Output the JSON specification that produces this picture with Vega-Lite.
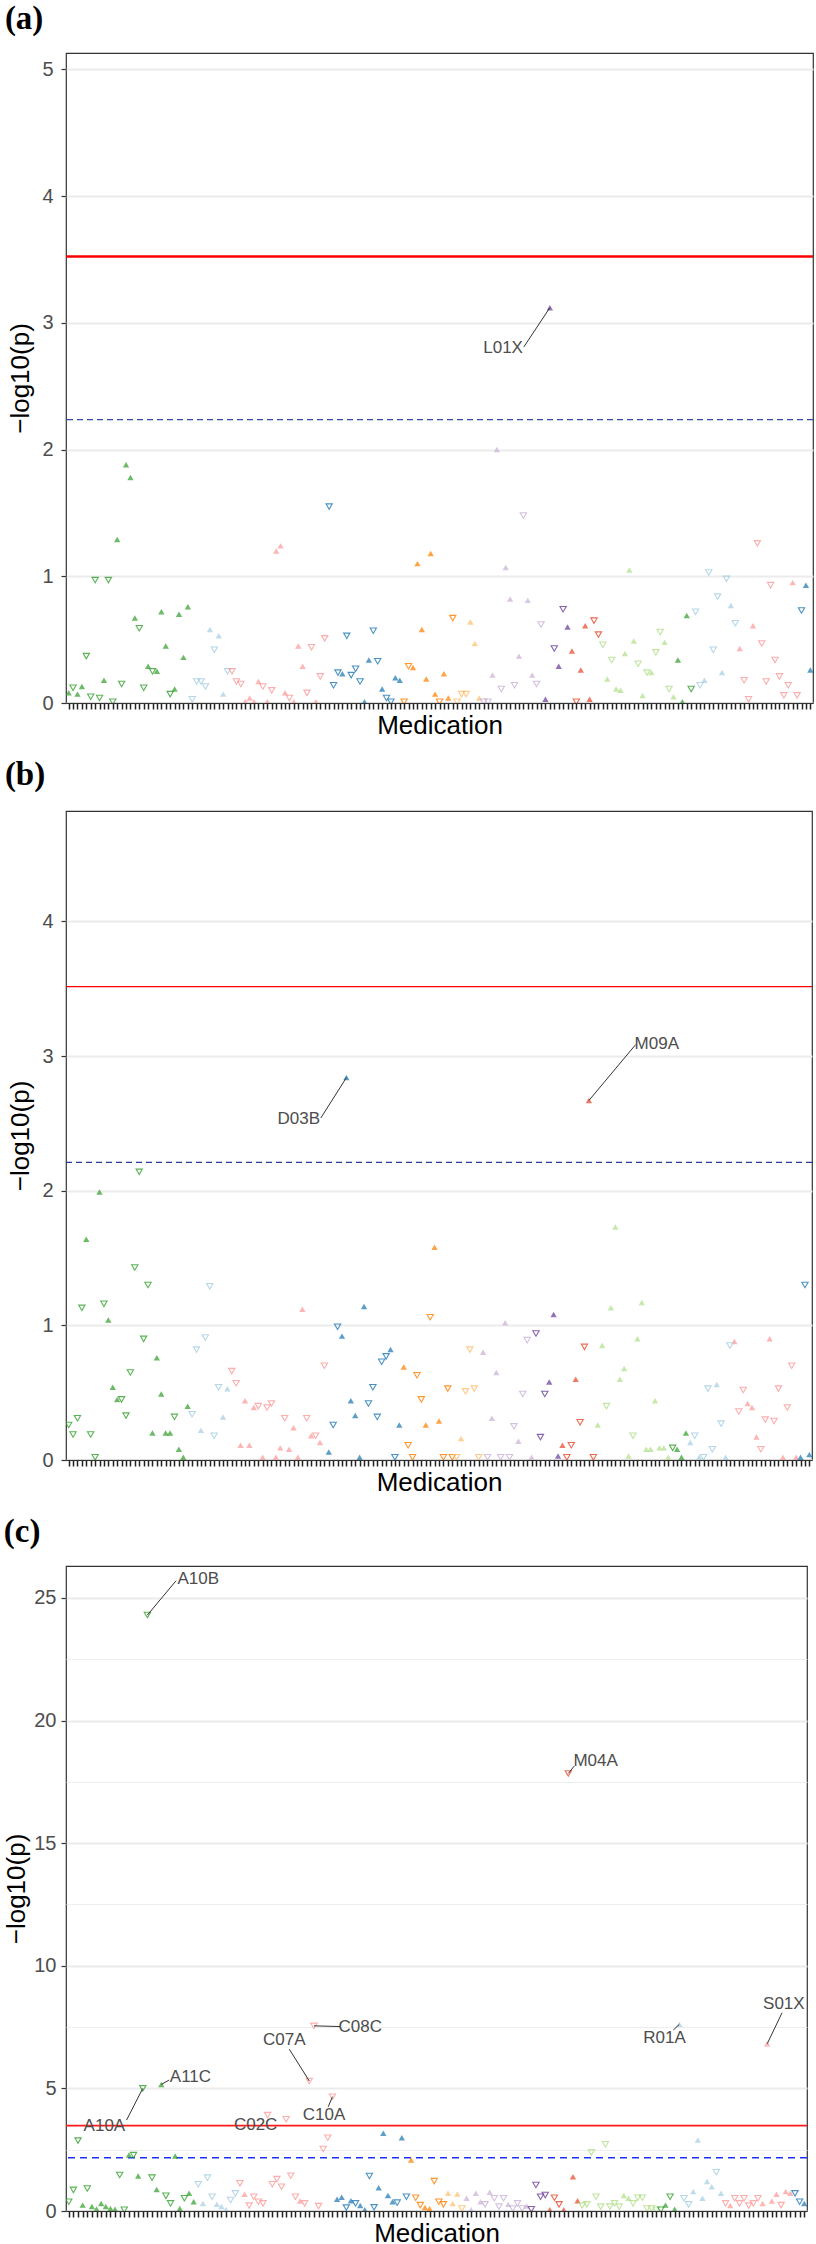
{
"$schema":"https://vega.github.io/schema/vega-lite/v6.json",
"padding":{"left":3,"top":2,"right":2,"bottom":0},
"background":"white",
"columns":1,
"align":"none",
"spacing":18,
"resolve":{"scale":{"x":"independent","y":"independent"}},
"config":{"view":{"stroke":"#333333","strokeWidth":1.2},"font":"Liberation Sans"},
"datasets":{
"thr":[{"p":"a","t":"bonf","v":3.524},{"p":"a","t":"fdr","v":2.236},{"p":"b","t":"bonf","v":3.515},{"p":"b","t":"fdr","v":2.21},{"p":"c","t":"bonf","v":3.48},{"p":"c","t":"fdr","v":2.17}],
"lab":[
{"p":"a","lab":"L01X","i":110,"v":3.12,"tx":99.4,"ty":2.80,"sx":104.1,"sy":2.81},
{"p":"b","lab":"D03B","i":64,"v":2.84,"tx":53.2,"ty":2.53,"sx":58.2,"sy":2.54},
{"p":"b","lab":"M09A","i":119,"v":2.67,"tx":134.4,"ty":3.09,"sx":129.6,"sy":3.085},
{"p":"c","lab":"A10B","i":18,"v":24.3,"tx":29.0,"ty":25.76,"sx":24.2,"sy":25.7},
{"p":"c","lab":"M04A","i":109,"v":17.84,"tx":114.9,"ty":18.35,"sx":110.3,"sy":18.15},
{"p":"c","lab":"C08C","i":54,"v":7.55,"tx":64.0,"ty":7.52,"sx":59.7,"sy":7.52},
{"p":"c","lab":"C07A","i":53,"v":5.30,"tx":47.6,"ty":6.96,"sx":48.7,"sy":6.59},
{"p":"c","lab":"C10A","i":58,"v":4.66,"tx":56.2,"ty":3.90,"sx":57.1,"sy":4.25},
{"p":"c","lab":"C02C","i":44,"v":3.91,"tx":41.4,"ty":3.50,"sx":44,"sy":3.91},
{"p":"c","lab":"A10A","i":17,"v":5.0,"tx":8.7,"ty":3.47,"sx":13.5,"sy":3.71},
{"p":"c","lab":"A11C","i":21,"v":5.16,"tx":27.3,"ty":5.47,"sx":22.7,"sy":5.34},
{"p":"c","lab":"R01A","i":133,"v":7.61,"tx":129.8,"ty":7.04,"sx":131.7,"sy":7.38},
{"p":"c","lab":"S01X","i":152,"v":6.82,"tx":155.6,"ty":8.43,"sx":155.2,"sy":8.08}
],
"pts":[
{"p":"a","i":1,"g":"A","d":"u","v":0.08},{"p":"a","i":2,"g":"A","d":"d","v":0.12},{"p":"a","i":3,"g":"A","d":"u","v":0.07},{"p":"a","i":4,"g":"A","d":"u","v":0.13},{"p":"a","i":5,"g":"A","d":"d","v":0.37},{"p":"a","i":6,"g":"A","d":"d","v":0.05},{"p":"a","i":7,"g":"A","d":"d","v":0.97},{"p":"a","i":8,"g":"A","d":"d","v":0.04},{"p":"a","i":9,"g":"A","d":"u","v":0.18},{"p":"a","i":10,"g":"A","d":"d","v":0.97},
{"p":"a","i":11,"g":"A","d":"d","v":0.01},{"p":"a","i":12,"g":"A","d":"u","v":1.29},{"p":"a","i":13,"g":"A","d":"d","v":0.15},{"p":"a","i":14,"g":"A","d":"u","v":1.88},{"p":"a","i":15,"g":"A","d":"u","v":1.78},{"p":"a","i":16,"g":"A","d":"u","v":0.67},{"p":"a","i":17,"g":"A","d":"d","v":0.59},{"p":"a","i":18,"g":"A","d":"d","v":0.12},{"p":"a","i":19,"g":"A","d":"u","v":0.29},{"p":"a","i":20,"g":"A","d":"d","v":0.25},
{"p":"a","i":21,"g":"A","d":"u","v":0.25},{"p":"a","i":22,"g":"A","d":"u","v":0.72},{"p":"a","i":23,"g":"A","d":"u","v":0.45},{"p":"a","i":24,"g":"A","d":"d","v":0.07},{"p":"a","i":25,"g":"A","d":"u","v":0.11},{"p":"a","i":26,"g":"A","d":"u","v":0.70},{"p":"a","i":27,"g":"A","d":"u","v":0.36},{"p":"a","i":28,"g":"A","d":"u","v":0.76},
{"p":"a","i":29,"g":"B","d":"d","v":0.03},{"p":"a","i":30,"g":"B","d":"d","v":0.17},{"p":"a","i":31,"g":"B","d":"d","v":0.17},{"p":"a","i":32,"g":"B","d":"d","v":0.13},{"p":"a","i":33,"g":"B","d":"u","v":0.58},{"p":"a","i":34,"g":"B","d":"d","v":0.42},{"p":"a","i":35,"g":"B","d":"u","v":0.53},{"p":"a","i":36,"g":"B","d":"u","v":0.07},{"p":"a","i":37,"g":"B","d":"d","v":0.25},
{"p":"a","i":38,"g":"C","d":"d","v":0.25},{"p":"a","i":39,"g":"C","d":"d","v":0.17},{"p":"a","i":40,"g":"C","d":"d","v":0.15},{"p":"a","i":41,"g":"C","d":"u","v":0.01},{"p":"a","i":42,"g":"C","d":"u","v":0.04},{"p":"a","i":43,"g":"C","d":"u","v":0.01},{"p":"a","i":44,"g":"C","d":"u","v":0.17},{"p":"a","i":45,"g":"C","d":"d","v":0.13},{"p":"a","i":46,"g":"C","d":"u","v":0.01},{"p":"a","i":47,"g":"C","d":"d","v":0.10},
{"p":"a","i":48,"g":"C","d":"u","v":1.20},{"p":"a","i":49,"g":"C","d":"u","v":1.24},{"p":"a","i":50,"g":"C","d":"u","v":0.08},{"p":"a","i":51,"g":"C","d":"d","v":0.04},{"p":"a","i":52,"g":"C","d":"u","v":0.01},{"p":"a","i":53,"g":"C","d":"u","v":0.45},{"p":"a","i":54,"g":"C","d":"u","v":0.29},{"p":"a","i":55,"g":"C","d":"d","v":0.08},{"p":"a","i":56,"g":"C","d":"d","v":0.44},{"p":"a","i":57,"g":"C","d":"u","v":0.01},
{"p":"a","i":58,"g":"C","d":"d","v":0.21},{"p":"a","i":59,"g":"C","d":"d","v":0.51},
{"p":"a","i":60,"g":"D","d":"d","v":1.55},{"p":"a","i":61,"g":"D","d":"d","v":0.14},{"p":"a","i":62,"g":"D","d":"d","v":0.24},{"p":"a","i":63,"g":"D","d":"u","v":0.23},{"p":"a","i":64,"g":"D","d":"d","v":0.53},{"p":"a","i":65,"g":"D","d":"d","v":0.22},{"p":"a","i":66,"g":"D","d":"d","v":0.27},{"p":"a","i":67,"g":"D","d":"d","v":0.17},{"p":"a","i":68,"g":"D","d":"u","v":0.01},{"p":"a","i":69,"g":"D","d":"u","v":0.34},
{"p":"a","i":70,"g":"D","d":"d","v":0.57},{"p":"a","i":71,"g":"D","d":"d","v":0.33},{"p":"a","i":72,"g":"D","d":"u","v":0.11},{"p":"a","i":73,"g":"D","d":"d","v":0.04},{"p":"a","i":74,"g":"D","d":"d","v":0.01},{"p":"a","i":75,"g":"D","d":"u","v":0.20},{"p":"a","i":76,"g":"D","d":"u","v":0.18},
{"p":"a","i":77,"g":"G","d":"d","v":0.01},{"p":"a","i":78,"g":"G","d":"d","v":0.29},{"p":"a","i":79,"g":"G","d":"u","v":0.28},{"p":"a","i":80,"g":"G","d":"u","v":1.10},{"p":"a","i":81,"g":"G","d":"u","v":0.58},{"p":"a","i":82,"g":"G","d":"u","v":0.19},{"p":"a","i":83,"g":"G","d":"u","v":1.18},{"p":"a","i":84,"g":"G","d":"u","v":0.07},{"p":"a","i":85,"g":"G","d":"d","v":0.01},{"p":"a","i":86,"g":"G","d":"u","v":0.23},{"p":"a","i":87,"g":"G","d":"u","v":0.04},{"p":"a","i":88,"g":"G","d":"d","v":0.67},
{"p":"a","i":89,"g":"H","d":"d","v":0.01},{"p":"a","i":90,"g":"H","d":"d","v":0.07},{"p":"a","i":91,"g":"H","d":"d","v":0.07},{"p":"a","i":92,"g":"H","d":"u","v":0.64},{"p":"a","i":93,"g":"H","d":"u","v":0.47},{"p":"a","i":94,"g":"H","d":"u","v":0.04},
{"p":"a","i":95,"g":"J","d":"d","v":0.01},{"p":"a","i":96,"g":"J","d":"d","v":0.01},{"p":"a","i":97,"g":"J","d":"u","v":0.22},{"p":"a","i":98,"g":"J","d":"u","v":2.00},{"p":"a","i":99,"g":"J","d":"d","v":0.11},{"p":"a","i":100,"g":"J","d":"u","v":1.07},{"p":"a","i":101,"g":"J","d":"u","v":0.82},{"p":"a","i":102,"g":"J","d":"d","v":0.14},{"p":"a","i":103,"g":"J","d":"u","v":0.37},{"p":"a","i":104,"g":"J","d":"d","v":1.48},{"p":"a","i":105,"g":"J","d":"u","v":0.81},{"p":"a","i":106,"g":"J","d":"u","v":0.22},{"p":"a","i":107,"g":"J","d":"d","v":0.15},{"p":"a","i":108,"g":"J","d":"d","v":0.62},
{"p":"a","i":109,"g":"L","d":"u","v":0.03},{"p":"a","i":110,"g":"L","d":"u","v":3.12},{"p":"a","i":111,"g":"L","d":"d","v":0.43},{"p":"a","i":112,"g":"L","d":"u","v":0.29},{"p":"a","i":113,"g":"L","d":"d","v":0.74},{"p":"a","i":114,"g":"L","d":"u","v":0.60},
{"p":"a","i":115,"g":"M","d":"u","v":0.41},{"p":"a","i":116,"g":"M","d":"d","v":0.01},{"p":"a","i":117,"g":"M","d":"u","v":0.26},{"p":"a","i":118,"g":"M","d":"u","v":0.61},{"p":"a","i":119,"g":"M","d":"u","v":0.03},{"p":"a","i":120,"g":"M","d":"d","v":0.65},{"p":"a","i":121,"g":"M","d":"d","v":0.54},
{"p":"a","i":122,"g":"N","d":"d","v":0.46},{"p":"a","i":123,"g":"N","d":"u","v":0.19},{"p":"a","i":124,"g":"N","d":"d","v":0.34},{"p":"a","i":125,"g":"N","d":"u","v":0.11},{"p":"a","i":126,"g":"N","d":"u","v":0.10},{"p":"a","i":127,"g":"N","d":"u","v":0.39},{"p":"a","i":128,"g":"N","d":"u","v":1.05},{"p":"a","i":129,"g":"N","d":"u","v":0.49},{"p":"a","i":130,"g":"N","d":"d","v":0.31},{"p":"a","i":131,"g":"N","d":"u","v":0.06},{"p":"a","i":132,"g":"N","d":"d","v":0.24},{"p":"a","i":133,"g":"N","d":"u","v":0.24},{"p":"a","i":134,"g":"N","d":"d","v":0.40},{"p":"a","i":135,"g":"N","d":"d","v":0.56},{"p":"a","i":136,"g":"N","d":"u","v":0.48},{"p":"a","i":137,"g":"N","d":"d","v":0.11},{"p":"a","i":138,"g":"N","d":"u","v":0.05},
{"p":"a","i":139,"g":"P","d":"u","v":0.34},{"p":"a","i":140,"g":"P","d":"u","v":0.01},{"p":"a","i":141,"g":"P","d":"u","v":0.69},{"p":"a","i":142,"g":"P","d":"d","v":0.11},
{"p":"a","i":143,"g":"R","d":"d","v":0.72},{"p":"a","i":144,"g":"R","d":"d","v":0.14},{"p":"a","i":145,"g":"R","d":"u","v":0.18},{"p":"a","i":146,"g":"R","d":"d","v":1.03},{"p":"a","i":147,"g":"R","d":"d","v":0.42},{"p":"a","i":148,"g":"R","d":"d","v":0.84},{"p":"a","i":149,"g":"R","d":"u","v":0.24},{"p":"a","i":150,"g":"R","d":"d","v":0.98},{"p":"a","i":151,"g":"R","d":"u","v":0.77},{"p":"a","i":152,"g":"R","d":"d","v":0.63},
{"p":"a","i":153,"g":"S","d":"u","v":0.43},{"p":"a","i":154,"g":"S","d":"d","v":0.18},{"p":"a","i":155,"g":"S","d":"d","v":0.03},{"p":"a","i":156,"g":"S","d":"u","v":0.61},{"p":"a","i":157,"g":"S","d":"d","v":1.26},{"p":"a","i":158,"g":"S","d":"d","v":0.47},{"p":"a","i":159,"g":"S","d":"d","v":0.17},{"p":"a","i":160,"g":"S","d":"d","v":0.93},{"p":"a","i":161,"g":"S","d":"d","v":0.34},{"p":"a","i":162,"g":"S","d":"d","v":0.21},{"p":"a","i":163,"g":"S","d":"d","v":0.06},{"p":"a","i":164,"g":"S","d":"d","v":0.14},{"p":"a","i":165,"g":"S","d":"u","v":0.95},{"p":"a","i":166,"g":"S","d":"d","v":0.06},
{"p":"a","i":167,"g":"V","d":"d","v":0.73},{"p":"a","i":168,"g":"V","d":"u","v":0.93},{"p":"a","i":169,"g":"V","d":"u","v":0.26},

{"p":"b","i":1,"g":"A","d":"d","v":0.26},{"p":"b","i":2,"g":"A","d":"d","v":0.19},{"p":"b","i":3,"g":"A","d":"d","v":0.31},{"p":"b","i":4,"g":"A","d":"d","v":1.13},{"p":"b","i":5,"g":"A","d":"u","v":1.64},{"p":"b","i":6,"g":"A","d":"d","v":0.19},{"p":"b","i":7,"g":"A","d":"d","v":0.02},{"p":"b","i":8,"g":"A","d":"u","v":1.99},{"p":"b","i":9,"g":"A","d":"d","v":1.16},{"p":"b","i":10,"g":"A","d":"u","v":1.04},
{"p":"b","i":11,"g":"A","d":"u","v":0.54},{"p":"b","i":12,"g":"A","d":"u","v":0.45},{"p":"b","i":13,"g":"A","d":"d","v":0.45},{"p":"b","i":14,"g":"A","d":"d","v":0.33},{"p":"b","i":15,"g":"A","d":"d","v":0.65},{"p":"b","i":16,"g":"A","d":"d","v":1.43},{"p":"b","i":17,"g":"A","d":"d","v":2.14},{"p":"b","i":18,"g":"A","d":"d","v":0.90},{"p":"b","i":19,"g":"A","d":"d","v":1.30},{"p":"b","i":20,"g":"A","d":"u","v":0.20},
{"p":"b","i":21,"g":"A","d":"u","v":0.76},{"p":"b","i":22,"g":"A","d":"u","v":0.49},{"p":"b","i":23,"g":"A","d":"u","v":0.20},{"p":"b","i":24,"g":"A","d":"u","v":0.20},{"p":"b","i":25,"g":"A","d":"d","v":0.32},{"p":"b","i":26,"g":"A","d":"u","v":0.08},{"p":"b","i":27,"g":"A","d":"u","v":0.02},{"p":"b","i":28,"g":"A","d":"u","v":0.40},
{"p":"b","i":29,"g":"B","d":"d","v":0.34},{"p":"b","i":30,"g":"B","d":"d","v":0.82},{"p":"b","i":31,"g":"B","d":"u","v":0.22},{"p":"b","i":32,"g":"B","d":"d","v":0.91},{"p":"b","i":33,"g":"B","d":"d","v":1.29},{"p":"b","i":34,"g":"B","d":"d","v":0.18},{"p":"b","i":35,"g":"B","d":"d","v":0.54},{"p":"b","i":36,"g":"B","d":"u","v":0.32},{"p":"b","i":37,"g":"B","d":"u","v":0.53},
{"p":"b","i":38,"g":"C","d":"d","v":0.66},{"p":"b","i":39,"g":"C","d":"d","v":0.57},{"p":"b","i":40,"g":"C","d":"u","v":0.11},{"p":"b","i":41,"g":"C","d":"u","v":0.44},{"p":"b","i":42,"g":"C","d":"u","v":0.11},{"p":"b","i":43,"g":"C","d":"u","v":0.39},{"p":"b","i":44,"g":"C","d":"d","v":0.40},{"p":"b","i":45,"g":"C","d":"u","v":0.02},{"p":"b","i":46,"g":"C","d":"d","v":0.39},{"p":"b","i":47,"g":"C","d":"d","v":0.42},
{"p":"b","i":48,"g":"C","d":"u","v":0.02},{"p":"b","i":49,"g":"C","d":"u","v":0.09},{"p":"b","i":50,"g":"C","d":"d","v":0.31},{"p":"b","i":51,"g":"C","d":"u","v":0.08},{"p":"b","i":52,"g":"C","d":"u","v":0.24},{"p":"b","i":53,"g":"C","d":"u","v":0.02},{"p":"b","i":54,"g":"C","d":"u","v":1.12},{"p":"b","i":55,"g":"C","d":"d","v":0.31},{"p":"b","i":56,"g":"C","d":"u","v":0.18},{"p":"b","i":57,"g":"C","d":"d","v":0.18},{"p":"b","i":58,"g":"C","d":"u","v":0.13},{"p":"b","i":59,"g":"C","d":"d","v":0.70},
{"p":"b","i":60,"g":"D","d":"u","v":0.06},{"p":"b","i":61,"g":"D","d":"d","v":0.26},{"p":"b","i":62,"g":"D","d":"d","v":0.99},{"p":"b","i":63,"g":"D","d":"u","v":0.92},{"p":"b","i":64,"g":"D","d":"u","v":2.84},{"p":"b","i":65,"g":"D","d":"u","v":0.44},{"p":"b","i":66,"g":"D","d":"u","v":0.33},{"p":"b","i":67,"g":"D","d":"u","v":0.02},{"p":"b","i":68,"g":"D","d":"u","v":1.14},{"p":"b","i":69,"g":"D","d":"d","v":0.42},
{"p":"b","i":70,"g":"D","d":"d","v":0.54},{"p":"b","i":71,"g":"D","d":"d","v":0.32},{"p":"b","i":72,"g":"D","d":"d","v":0.73},{"p":"b","i":73,"g":"D","d":"d","v":0.77},{"p":"b","i":74,"g":"D","d":"u","v":0.82},{"p":"b","i":75,"g":"D","d":"d","v":0.02},{"p":"b","i":76,"g":"D","d":"u","v":0.26},
{"p":"b","i":77,"g":"G","d":"u","v":0.69},{"p":"b","i":78,"g":"G","d":"d","v":0.11},{"p":"b","i":79,"g":"G","d":"d","v":0.02},{"p":"b","i":80,"g":"G","d":"d","v":0.63},{"p":"b","i":81,"g":"G","d":"d","v":0.45},{"p":"b","i":82,"g":"G","d":"u","v":0.26},{"p":"b","i":83,"g":"G","d":"d","v":1.06},{"p":"b","i":84,"g":"G","d":"u","v":1.58},{"p":"b","i":85,"g":"G","d":"u","v":0.29},{"p":"b","i":86,"g":"G","d":"d","v":0.02},{"p":"b","i":87,"g":"G","d":"d","v":0.53},{"p":"b","i":88,"g":"G","d":"d","v":0.02},
{"p":"b","i":89,"g":"H","d":"d","v":0.02},{"p":"b","i":90,"g":"H","d":"u","v":0.16},{"p":"b","i":91,"g":"H","d":"d","v":0.51},{"p":"b","i":92,"g":"H","d":"d","v":0.82},{"p":"b","i":93,"g":"H","d":"d","v":0.53},{"p":"b","i":94,"g":"H","d":"d","v":0.02},
{"p":"b","i":95,"g":"J","d":"u","v":0.80},{"p":"b","i":96,"g":"J","d":"d","v":0.02},{"p":"b","i":97,"g":"J","d":"u","v":0.31},{"p":"b","i":98,"g":"J","d":"u","v":0.65},{"p":"b","i":99,"g":"J","d":"d","v":0.02},{"p":"b","i":100,"g":"J","d":"u","v":1.02},{"p":"b","i":101,"g":"J","d":"d","v":0.02},{"p":"b","i":102,"g":"J","d":"d","v":0.25},{"p":"b","i":103,"g":"J","d":"u","v":0.14},{"p":"b","i":104,"g":"J","d":"d","v":0.49},{"p":"b","i":105,"g":"J","d":"d","v":0.89},{"p":"b","i":106,"g":"J","d":"u","v":0.02},
{"p":"b","i":107,"g":"L","d":"d","v":0.94},{"p":"b","i":108,"g":"L","d":"d","v":0.17},{"p":"b","i":109,"g":"L","d":"d","v":0.49},{"p":"b","i":110,"g":"L","d":"u","v":0.58},{"p":"b","i":111,"g":"L","d":"u","v":1.08},{"p":"b","i":112,"g":"L","d":"u","v":0.03},
{"p":"b","i":113,"g":"M","d":"u","v":0.11},{"p":"b","i":114,"g":"M","d":"d","v":0.02},{"p":"b","i":115,"g":"M","d":"d","v":0.11},{"p":"b","i":116,"g":"M","d":"u","v":0.60},{"p":"b","i":117,"g":"M","d":"d","v":0.28},{"p":"b","i":118,"g":"M","d":"d","v":0.84},{"p":"b","i":119,"g":"M","d":"u","v":2.67},{"p":"b","i":120,"g":"M","d":"d","v":0.02},
{"p":"b","i":121,"g":"N","d":"u","v":0.26},{"p":"b","i":122,"g":"N","d":"u","v":0.85},{"p":"b","i":123,"g":"N","d":"d","v":0.40},{"p":"b","i":124,"g":"N","d":"u","v":1.13},{"p":"b","i":125,"g":"N","d":"u","v":1.73},{"p":"b","i":126,"g":"N","d":"u","v":0.60},{"p":"b","i":127,"g":"N","d":"u","v":0.68},{"p":"b","i":128,"g":"N","d":"u","v":0.03},{"p":"b","i":129,"g":"N","d":"d","v":0.18},{"p":"b","i":130,"g":"N","d":"u","v":0.90},
{"p":"b","i":131,"g":"N","d":"u","v":1.17},{"p":"b","i":132,"g":"N","d":"u","v":0.08},{"p":"b","i":133,"g":"N","d":"u","v":0.08},{"p":"b","i":134,"g":"N","d":"u","v":0.44},{"p":"b","i":135,"g":"N","d":"u","v":0.09},{"p":"b","i":136,"g":"N","d":"u","v":0.09},{"p":"b","i":137,"g":"N","d":"u","v":0.02},
{"p":"b","i":138,"g":"P","d":"d","v":0.09},{"p":"b","i":139,"g":"P","d":"u","v":0.08},{"p":"b","i":140,"g":"P","d":"u","v":0.02},{"p":"b","i":141,"g":"P","d":"u","v":0.20},
{"p":"b","i":142,"g":"R","d":"u","v":0.13},{"p":"b","i":143,"g":"R","d":"d","v":0.18},{"p":"b","i":144,"g":"R","d":"u","v":0.02},{"p":"b","i":145,"g":"R","d":"d","v":0.02},{"p":"b","i":146,"g":"R","d":"d","v":0.53},{"p":"b","i":147,"g":"R","d":"d","v":0.08},{"p":"b","i":148,"g":"R","d":"u","v":0.56},{"p":"b","i":149,"g":"R","d":"d","v":0.27},{"p":"b","i":150,"g":"R","d":"u","v":0.02},{"p":"b","i":151,"g":"R","d":"d","v":0.85},
{"p":"b","i":152,"g":"S","d":"u","v":0.88},{"p":"b","i":153,"g":"S","d":"d","v":0.36},{"p":"b","i":154,"g":"S","d":"d","v":0.52},{"p":"b","i":155,"g":"S","d":"u","v":0.42},{"p":"b","i":156,"g":"S","d":"u","v":0.39},{"p":"b","i":157,"g":"S","d":"u","v":0.17},{"p":"b","i":158,"g":"S","d":"d","v":0.08},{"p":"b","i":159,"g":"S","d":"d","v":0.30},{"p":"b","i":160,"g":"S","d":"u","v":0.90},
{"p":"b","i":161,"g":"S","d":"d","v":0.29},{"p":"b","i":162,"g":"S","d":"d","v":0.53},{"p":"b","i":163,"g":"S","d":"u","v":0.02},{"p":"b","i":164,"g":"S","d":"d","v":0.39},{"p":"b","i":165,"g":"S","d":"d","v":0.70},{"p":"b","i":166,"g":"S","d":"u","v":0.02},
{"p":"b","i":167,"g":"V","d":"u","v":0.02},{"p":"b","i":168,"g":"V","d":"d","v":1.30},{"p":"b","i":169,"g":"V","d":"u","v":0.04},

{"p":"c","i":1,"g":"A","d":"d","v":0.38},{"p":"c","i":2,"g":"A","d":"d","v":0.86},{"p":"c","i":3,"g":"A","d":"d","v":2.87},{"p":"c","i":4,"g":"A","d":"u","v":0.24},{"p":"c","i":5,"g":"A","d":"d","v":0.92},{"p":"c","i":6,"g":"A","d":"u","v":0.18},{"p":"c","i":7,"g":"A","d":"u","v":0.08},{"p":"c","i":8,"g":"A","d":"u","v":0.31},{"p":"c","i":9,"g":"A","d":"u","v":0.18},{"p":"c","i":10,"g":"A","d":"u","v":0.10},
{"p":"c","i":11,"g":"A","d":"u","v":0.07},{"p":"c","i":12,"g":"A","d":"d","v":1.47},{"p":"c","i":13,"g":"A","d":"d","v":0.05},{"p":"c","i":14,"g":"A","d":"u","v":2.28},{"p":"c","i":15,"g":"A","d":"d","v":2.28},{"p":"c","i":16,"g":"A","d":"u","v":1.43},{"p":"c","i":17,"g":"A","d":"d","v":5.00},{"p":"c","i":18,"g":"A","d":"d","v":24.3},{"p":"c","i":19,"g":"A","d":"d","v":1.36},{"p":"c","i":20,"g":"A","d":"u","v":0.88},
{"p":"c","i":21,"g":"A","d":"u","v":5.16},{"p":"c","i":22,"g":"A","d":"d","v":0.62},{"p":"c","i":23,"g":"A","d":"d","v":0.31},{"p":"c","i":24,"g":"A","d":"u","v":2.24},{"p":"c","i":25,"g":"A","d":"u","v":0.10},{"p":"c","i":26,"g":"A","d":"d","v":0.52},{"p":"c","i":27,"g":"A","d":"u","v":0.72},{"p":"c","i":28,"g":"A","d":"u","v":0.38},
{"p":"c","i":29,"g":"B","d":"d","v":1.09},{"p":"c","i":30,"g":"B","d":"u","v":0.31},{"p":"c","i":31,"g":"B","d":"d","v":1.36},{"p":"c","i":32,"g":"B","d":"d","v":0.58},{"p":"c","i":33,"g":"B","d":"u","v":0.27},{"p":"c","i":34,"g":"B","d":"u","v":0.18},{"p":"c","i":35,"g":"B","d":"u","v":0.05},{"p":"c","i":36,"g":"B","d":"d","v":0.45},{"p":"c","i":37,"g":"B","d":"d","v":0.72},
{"p":"c","i":38,"g":"C","d":"d","v":1.13},{"p":"c","i":39,"g":"C","d":"u","v":0.68},{"p":"c","i":40,"g":"C","d":"d","v":0.22},{"p":"c","i":41,"g":"C","d":"d","v":0.58},{"p":"c","i":42,"g":"C","d":"d","v":0.38},{"p":"c","i":43,"g":"C","d":"d","v":0.31},{"p":"c","i":44,"g":"C","d":"d","v":3.91},{"p":"c","i":45,"g":"C","d":"d","v":1.09},{"p":"c","i":46,"g":"C","d":"d","v":1.30},{"p":"c","i":47,"g":"C","d":"d","v":0.99},
{"p":"c","i":48,"g":"C","d":"d","v":3.74},{"p":"c","i":49,"g":"C","d":"d","v":1.44},{"p":"c","i":50,"g":"C","d":"d","v":0.58},{"p":"c","i":51,"g":"C","d":"u","v":0.41},{"p":"c","i":52,"g":"C","d":"d","v":0.31},{"p":"c","i":53,"g":"C","d":"d","v":5.30},{"p":"c","i":54,"g":"C","d":"d","v":7.55},{"p":"c","i":55,"g":"C","d":"d","v":0.20},{"p":"c","i":56,"g":"C","d":"d","v":2.53},{"p":"c","i":57,"g":"C","d":"d","v":2.99},{"p":"c","i":58,"g":"C","d":"d","v":4.66},
{"p":"c","i":59,"g":"D","d":"u","v":0.48},{"p":"c","i":60,"g":"D","d":"u","v":0.56},{"p":"c","i":61,"g":"D","d":"d","v":0.14},{"p":"c","i":62,"g":"D","d":"u","v":0.42},{"p":"c","i":63,"g":"D","d":"d","v":0.31},{"p":"c","i":64,"g":"D","d":"u","v":0.22},{"p":"c","i":65,"g":"D","d":"u","v":0.05},{"p":"c","i":66,"g":"D","d":"d","v":1.43},{"p":"c","i":67,"g":"D","d":"d","v":0.15},{"p":"c","i":68,"g":"D","d":"u","v":0.95},
{"p":"c","i":69,"g":"D","d":"u","v":3.17},{"p":"c","i":70,"g":"D","d":"u","v":0.63},{"p":"c","i":71,"g":"D","d":"u","v":0.38},{"p":"c","i":72,"g":"D","d":"d","v":0.34},{"p":"c","i":73,"g":"D","d":"u","v":2.99},{"p":"c","i":74,"g":"D","d":"d","v":0.58},
{"p":"c","i":75,"g":"G","d":"u","v":2.08},{"p":"c","i":76,"g":"G","d":"d","v":0.54},{"p":"c","i":77,"g":"G","d":"d","v":0.24},{"p":"c","i":78,"g":"G","d":"u","v":0.14},{"p":"c","i":79,"g":"G","d":"u","v":0.10},{"p":"c","i":80,"g":"G","d":"d","v":1.22},{"p":"c","i":81,"g":"G","d":"d","v":0.38},{"p":"c","i":82,"g":"G","d":"d","v":0.27},
{"p":"c","i":83,"g":"H","d":"u","v":0.72},{"p":"c","i":84,"g":"H","d":"u","v":0.31},{"p":"c","i":85,"g":"H","d":"u","v":0.69},{"p":"c","i":86,"g":"H","d":"d","v":0.10},
{"p":"c","i":87,"g":"J","d":"u","v":0.52},{"p":"c","i":88,"g":"J","d":"u","v":0.05},{"p":"c","i":89,"g":"J","d":"u","v":0.72},{"p":"c","i":90,"g":"J","d":"u","v":0.38},{"p":"c","i":91,"g":"J","d":"d","v":0.27},{"p":"c","i":92,"g":"J","d":"u","v":0.76},{"p":"c","i":93,"g":"J","d":"d","v":0.52},{"p":"c","i":94,"g":"J","d":"d","v":0.18},{"p":"c","i":95,"g":"J","d":"d","v":0.52},{"p":"c","i":96,"g":"J","d":"u","v":0.27},{"p":"c","i":97,"g":"J","d":"d","v":0.10},{"p":"c","i":98,"g":"J","d":"d","v":0.31},{"p":"c","i":99,"g":"J","d":"d","v":0.10},{"p":"c","i":100,"g":"J","d":"u","v":0.20},
{"p":"c","i":101,"g":"L","d":"d","v":0.07},{"p":"c","i":102,"g":"L","d":"d","v":1.06},{"p":"c","i":103,"g":"L","d":"d","v":0.58},{"p":"c","i":104,"g":"L","d":"d","v":0.65},
{"p":"c","i":105,"g":"M","d":"u","v":0.05},{"p":"c","i":106,"g":"M","d":"d","v":0.54},{"p":"c","i":107,"g":"M","d":"d","v":0.27},{"p":"c","i":108,"g":"M","d":"u","v":0.05},{"p":"c","i":109,"g":"M","d":"d","v":17.84},{"p":"c","i":110,"g":"M","d":"u","v":1.40},{"p":"c","i":111,"g":"M","d":"u","v":0.42},
{"p":"c","i":112,"g":"N","d":"d","v":0.22},{"p":"c","i":113,"g":"N","d":"d","v":0.27},{"p":"c","i":114,"g":"N","d":"d","v":2.39},{"p":"c","i":115,"g":"N","d":"d","v":0.58},{"p":"c","i":116,"g":"N","d":"d","v":0.18},{"p":"c","i":117,"g":"N","d":"d","v":2.72},{"p":"c","i":118,"g":"N","d":"d","v":0.18},{"p":"c","i":119,"g":"N","d":"d","v":0.31},{"p":"c","i":120,"g":"N","d":"d","v":0.18},
{"p":"c","i":121,"g":"N","d":"u","v":0.63},{"p":"c","i":122,"g":"N","d":"u","v":0.52},{"p":"c","i":123,"g":"N","d":"d","v":0.31},{"p":"c","i":124,"g":"N","d":"d","v":0.54},{"p":"c","i":125,"g":"N","d":"d","v":0.54},{"p":"c","i":126,"g":"N","d":"d","v":0.10},{"p":"c","i":127,"g":"N","d":"d","v":0.10},{"p":"c","i":128,"g":"N","d":"d","v":0.05},
{"p":"c","i":129,"g":"P","d":"d","v":0.05},{"p":"c","i":130,"g":"P","d":"u","v":0.24},{"p":"c","i":131,"g":"P","d":"d","v":0.58},{"p":"c","i":132,"g":"P","d":"u","v":0.07},
{"p":"c","i":133,"g":"R","d":"u","v":7.61},{"p":"c","i":134,"g":"R","d":"d","v":0.52},{"p":"c","i":135,"g":"R","d":"d","v":0.27},{"p":"c","i":136,"g":"R","d":"u","v":0.79},{"p":"c","i":137,"g":"R","d":"u","v":2.89},{"p":"c","i":138,"g":"R","d":"u","v":0.52},{"p":"c","i":139,"g":"R","d":"u","v":1.20},{"p":"c","i":140,"g":"R","d":"u","v":0.99},{"p":"c","i":141,"g":"R","d":"d","v":1.58},{"p":"c","i":142,"g":"R","d":"u","v":0.72},
{"p":"c","i":143,"g":"S","d":"d","v":0.31},{"p":"c","i":144,"g":"S","d":"u","v":0.22},{"p":"c","i":145,"g":"S","d":"d","v":0.52},{"p":"c","i":146,"g":"S","d":"d","v":0.31},{"p":"c","i":147,"g":"S","d":"d","v":0.52},{"p":"c","i":148,"g":"S","d":"d","v":0.22},{"p":"c","i":149,"g":"S","d":"d","v":0.31},{"p":"c","i":150,"g":"S","d":"d","v":0.52},{"p":"c","i":151,"g":"S","d":"u","v":0.31},{"p":"c","i":152,"g":"S","d":"u","v":6.82},
{"p":"c","i":153,"g":"S","d":"u","v":0.41},{"p":"c","i":154,"g":"S","d":"u","v":0.68},{"p":"c","i":155,"g":"S","d":"d","v":0.24},{"p":"c","i":156,"g":"S","d":"u","v":0.79},{"p":"c","i":157,"g":"S","d":"u","v":0.72},
{"p":"c","i":158,"g":"V","d":"d","v":0.72},{"p":"c","i":159,"g":"V","d":"d","v":0.38},{"p":"c","i":160,"g":"V","d":"u","v":0.31}
]},
"concat":[
{"title":{"text":"(a)","anchor":"start","frame":"bounds","font":"Liberation Serif","fontSize":33,"fontWeight":"bold","color":"#000000","offset":17,"dx":-3},
 "width":747,"height":650,
 "layer":[
  {"data":{"name":"thr"},"transform":[{"filter":"datum.p==='a' && datum.t==='fdr'"}],"mark":{"type":"rule","color":"#3349a8","strokeWidth":1.3,"strokeDash":[6,4]},
   "encoding":{"y":{"field":"v","type":"quantitative","scale":{"domain":[0,5.13],"nice":false},
     "axis":{"title":"−log10(p)","values":[0,0.5,1,1.5,2,2.5,3,3.5,4,4.5,5],"format":"d","labelExpr":"datum.value % 1 === 0 ? datum.label : ''","grid":true,"gridColor":"#ebebeb","gridWidth":{"condition":{"test":"datum.value % 1 === 0","value":1.8},"value":0.9},"tickOpacity":{"condition":{"test":"datum.value % 1 === 0","value":1},"value":0},"tickSize":5,"tickColor":"#333333","tickWidth":1.2,"domain":false,"labelFontSize":20,"labelColor":"#4d4d4d","labelFont":"Liberation Sans","labelPadding":8,"titleFontSize":26,"titleFont":"Liberation Sans","titleFontWeight":"normal","titleColor":"#000000","titlePadding":8}}}},
  {"data":{"name":"thr"},"transform":[{"filter":"datum.p==='a' && datum.t==='bonf'"}],"mark":{"type":"rule","color":"#ff0000","strokeWidth":2.4},
   "encoding":{"y":{"field":"v","type":"quantitative","scale":{"domain":[0,5.13],"nice":false}}}},
  {"data":{"name":"pts"},"transform":[{"filter":"datum.p==='a' && datum.d==='u'"}],"mark":{"type":"point","shape":"triangle-up","filled":true,"size":40,"opacity":0.72,"clip":true},
   "encoding":{"x":{"field":"i","type":"quantitative","scale":{"domain":[0.4,169.6],"nice":false,"zero":false},
     "axis":{"title":"Medication","labels":false,"tickCount":169,"tickMinStep":1,"grid":false,"tickSize":6,"tickWidth":1.5,"tickColor":"#222222","domainColor":"#333333","domainWidth":1.2,"titleFontSize":26,"titleFont":"Liberation Sans","titleFontWeight":"normal","titleColor":"#000000","titlePadding":3}},
    "y":{"field":"v","type":"quantitative","scale":{"domain":[0,5.13],"nice":false}},
    "color":{"field":"g","type":"nominal","legend":null,"scale":{"domain":["A","B","C","D","G","H","J","L","M","N","P","R","S","V"],"range":["#33a02c","#a6cee3","#fb9a99","#1f78b4","#ff7f00","#fdbf6f","#cab2d6","#6a3d9a","#e8482a","#b2df8a","#33a02c","#a6cee3","#fb9a99","#1f78b4"]}}}},
  {"data":{"name":"pts"},"transform":[{"filter":"datum.p==='a' && datum.d==='d'"}],"mark":{"type":"point","shape":"triangle-down","filled":false,"size":40,"strokeWidth":1.1,"opacity":0.8,"clip":true},
   "encoding":{"x":{"field":"i","type":"quantitative","scale":{"domain":[0.4,169.6],"nice":false,"zero":false},"axis":{"title":"Medication"}},
    "y":{"field":"v","type":"quantitative","scale":{"domain":[0,5.13],"nice":false}},
    "color":{"field":"g","type":"nominal","legend":null,"scale":{"domain":["A","B","C","D","G","H","J","L","M","N","P","R","S","V"],"range":["#33a02c","#a6cee3","#fb9a99","#1f78b4","#ff7f00","#fdbf6f","#cab2d6","#6a3d9a","#e8482a","#b2df8a","#33a02c","#a6cee3","#fb9a99","#1f78b4"]}}}},
  {"data":{"name":"lab"},"transform":[{"filter":"datum.p==='a'"}],"mark":{"type":"rule","color":"#333333","strokeWidth":1},
   "encoding":{"x":{"field":"i","type":"quantitative","scale":{"domain":[0.4,169.6],"nice":false,"zero":false},"axis":{"title":"Medication"}},"y":{"field":"v","type":"quantitative","scale":{"domain":[0,5.13],"nice":false}},"x2":{"field":"sx"},"y2":{"field":"sy"}}},
  {"data":{"name":"lab"},"transform":[{"filter":"datum.p==='a'"}],"mark":{"type":"text","font":"Liberation Sans","fontSize":17,"color":"#4d4d4d","align":"center","baseline":"middle"},
   "encoding":{"x":{"field":"tx","type":"quantitative","scale":{"domain":[0.4,169.6],"nice":false,"zero":false},"axis":{"title":"Medication"}},"y":{"field":"ty","type":"quantitative","scale":{"domain":[0,5.13],"nice":false}},"text":{"field":"lab"}}}
 ]},
{"title":{"text":"(b)","anchor":"start","frame":"bounds","font":"Liberation Serif","fontSize":33,"fontWeight":"bold","color":"#000000","offset":19,"dx":-3},
 "width":746,"height":649,
 "layer":[
  {"data":{"name":"thr"},"transform":[{"filter":"datum.p==='b' && datum.t==='fdr'"}],"mark":{"type":"rule","color":"#2a3a98","strokeWidth":1.3,"strokeDash":[6,4]},
   "encoding":{"y":{"field":"v","type":"quantitative","scale":{"domain":[0,4.82],"nice":false},
     "axis":{"title":"−log10(p)","values":[0,0.5,1,1.5,2,2.5,3,3.5,4,4.5],"format":"d","labelExpr":"datum.value % 1 === 0 ? datum.label : ''","grid":true,"gridColor":"#ebebeb","gridWidth":{"condition":{"test":"datum.value % 1 === 0","value":1.8},"value":0.9},"tickOpacity":{"condition":{"test":"datum.value % 1 === 0","value":1},"value":0},"tickSize":5,"tickColor":"#333333","tickWidth":1.2,"domain":false,"labelFontSize":20,"labelColor":"#4d4d4d","labelFont":"Liberation Sans","labelPadding":8,"titleFontSize":26,"titleFont":"Liberation Sans","titleFontWeight":"normal","titleColor":"#000000","titlePadding":8}}}},
  {"data":{"name":"thr"},"transform":[{"filter":"datum.p==='b' && datum.t==='bonf'"}],"mark":{"type":"rule","color":"#ff0000","strokeWidth":1.3},
   "encoding":{"y":{"field":"v","type":"quantitative","scale":{"domain":[0,4.82],"nice":false}}}},
  {"data":{"name":"pts"},"transform":[{"filter":"datum.p==='b' && datum.d==='u'"}],"mark":{"type":"point","shape":"triangle-up","filled":true,"size":40,"opacity":0.72,"clip":true},
   "encoding":{"x":{"field":"i","type":"quantitative","scale":{"domain":[0.4,169.6],"nice":false,"zero":false},
     "axis":{"title":"Medication","labels":false,"tickCount":169,"tickMinStep":1,"grid":false,"tickSize":6,"tickWidth":1.5,"tickColor":"#222222","domainColor":"#333333","domainWidth":1.2,"titleFontSize":26,"titleFont":"Liberation Sans","titleFontWeight":"normal","titleColor":"#000000","titlePadding":3}},
    "y":{"field":"v","type":"quantitative","scale":{"domain":[0,4.82],"nice":false}},
    "color":{"field":"g","type":"nominal","legend":null,"scale":{"domain":["A","B","C","D","G","H","J","L","M","N","P","R","S","V"],"range":["#33a02c","#a6cee3","#fb9a99","#1f78b4","#ff7f00","#fdbf6f","#cab2d6","#6a3d9a","#e8482a","#b2df8a","#33a02c","#a6cee3","#fb9a99","#1f78b4"]}}}},
  {"data":{"name":"pts"},"transform":[{"filter":"datum.p==='b' && datum.d==='d'"}],"mark":{"type":"point","shape":"triangle-down","filled":false,"size":40,"strokeWidth":1.1,"opacity":0.8,"clip":true},
   "encoding":{"x":{"field":"i","type":"quantitative","scale":{"domain":[0.4,169.6],"nice":false,"zero":false},"axis":{"title":"Medication"}},
    "y":{"field":"v","type":"quantitative","scale":{"domain":[0,4.82],"nice":false}},
    "color":{"field":"g","type":"nominal","legend":null,"scale":{"domain":["A","B","C","D","G","H","J","L","M","N","P","R","S","V"],"range":["#33a02c","#a6cee3","#fb9a99","#1f78b4","#ff7f00","#fdbf6f","#cab2d6","#6a3d9a","#e8482a","#b2df8a","#33a02c","#a6cee3","#fb9a99","#1f78b4"]}}}},
  {"data":{"name":"lab"},"transform":[{"filter":"datum.p==='b'"}],"mark":{"type":"rule","color":"#333333","strokeWidth":1},
   "encoding":{"x":{"field":"i","type":"quantitative","scale":{"domain":[0.4,169.6],"nice":false,"zero":false},"axis":{"title":"Medication"}},"y":{"field":"v","type":"quantitative","scale":{"domain":[0,4.82],"nice":false}},"x2":{"field":"sx"},"y2":{"field":"sy"}}},
  {"data":{"name":"lab"},"transform":[{"filter":"datum.p==='b'"}],"mark":{"type":"text","font":"Liberation Sans","fontSize":17,"color":"#4d4d4d","align":"center","baseline":"middle"},
   "encoding":{"x":{"field":"tx","type":"quantitative","scale":{"domain":[0.4,169.6],"nice":false,"zero":false},"axis":{"title":"Medication"}},"y":{"field":"ty","type":"quantitative","scale":{"domain":[0,4.82],"nice":false}},"text":{"field":"lab"}}}
 ]},
{"title":{"text":"(c)","anchor":"start","frame":"bounds","font":"Liberation Serif","fontSize":33,"fontWeight":"bold","color":"#000000","offset":17,"dx":0},
 "width":741,"height":645,
 "layer":[
  {"data":{"name":"thr"},"transform":[{"filter":"datum.p==='c' && datum.t==='fdr'"}],"mark":{"type":"rule","color":"#1a33ff","strokeWidth":1.5,"strokeDash":[7,5]},
   "encoding":{"y":{"field":"v","type":"quantitative","scale":{"domain":[0,26.3],"nice":false},
     "axis":{"title":"−log10(p)","values":[0,2.5,5,7.5,10,12.5,15,17.5,20,22.5,25],"format":"d","labelExpr":"datum.value % 5 === 0 ? datum.label : ''","grid":true,"gridColor":"#ebebeb","gridWidth":{"condition":{"test":"datum.value % 5 === 0","value":1.8},"value":0.9},"tickOpacity":{"condition":{"test":"datum.value % 5 === 0","value":1},"value":0},"tickSize":5,"tickColor":"#333333","tickWidth":1.2,"domain":false,"labelFontSize":20,"labelColor":"#4d4d4d","labelFont":"Liberation Sans","labelPadding":5,"titleFontSize":26,"titleFont":"Liberation Sans","titleFontWeight":"normal","titleColor":"#000000","titlePadding":4}}}},
  {"data":{"name":"thr"},"transform":[{"filter":"datum.p==='c' && datum.t==='bonf'"}],"mark":{"type":"rule","color":"#ff1a1a","strokeWidth":1.6},
   "encoding":{"y":{"field":"v","type":"quantitative","scale":{"domain":[0,26.3],"nice":false}}}},
  {"data":{"name":"pts"},"transform":[{"filter":"datum.p==='c' && datum.d==='u'"}],"mark":{"type":"point","shape":"triangle-up","filled":true,"size":40,"opacity":0.72,"clip":true},
   "encoding":{"x":{"field":"i","type":"quantitative","scale":{"domain":[0.4,160.6],"nice":false,"zero":false},
     "axis":{"title":"Medication","labels":false,"tickCount":160,"tickMinStep":1,"grid":false,"tickSize":6,"tickWidth":1.5,"tickColor":"#222222","domainColor":"#333333","domainWidth":1.2,"titleFontSize":26,"titleFont":"Liberation Sans","titleFontWeight":"normal","titleColor":"#000000","titlePadding":3}},
    "y":{"field":"v","type":"quantitative","scale":{"domain":[0,26.3],"nice":false}},
    "color":{"field":"g","type":"nominal","legend":null,"scale":{"domain":["A","B","C","D","G","H","J","L","M","N","P","R","S","V"],"range":["#33a02c","#a6cee3","#fb9a99","#1f78b4","#ff7f00","#fdbf6f","#cab2d6","#6a3d9a","#e8482a","#b2df8a","#33a02c","#a6cee3","#fb9a99","#1f78b4"]}}}},
  {"data":{"name":"pts"},"transform":[{"filter":"datum.p==='c' && datum.d==='d'"}],"mark":{"type":"point","shape":"triangle-down","filled":false,"size":40,"strokeWidth":1.1,"opacity":0.8,"clip":true},
   "encoding":{"x":{"field":"i","type":"quantitative","scale":{"domain":[0.4,160.6],"nice":false,"zero":false},"axis":{"title":"Medication"}},
    "y":{"field":"v","type":"quantitative","scale":{"domain":[0,26.3],"nice":false}},
    "color":{"field":"g","type":"nominal","legend":null,"scale":{"domain":["A","B","C","D","G","H","J","L","M","N","P","R","S","V"],"range":["#33a02c","#a6cee3","#fb9a99","#1f78b4","#ff7f00","#fdbf6f","#cab2d6","#6a3d9a","#e8482a","#b2df8a","#33a02c","#a6cee3","#fb9a99","#1f78b4"]}}}},
  {"data":{"name":"lab"},"transform":[{"filter":"datum.p==='c'"}],"mark":{"type":"rule","color":"#333333","strokeWidth":1},
   "encoding":{"x":{"field":"i","type":"quantitative","scale":{"domain":[0.4,160.6],"nice":false,"zero":false},"axis":{"title":"Medication"}},"y":{"field":"v","type":"quantitative","scale":{"domain":[0,26.3],"nice":false}},"x2":{"field":"sx"},"y2":{"field":"sy"}}},
  {"data":{"name":"lab"},"transform":[{"filter":"datum.p==='c'"}],"mark":{"type":"text","font":"Liberation Sans","fontSize":17,"color":"#4d4d4d","align":"center","baseline":"middle"},
   "encoding":{"x":{"field":"tx","type":"quantitative","scale":{"domain":[0.4,160.6],"nice":false,"zero":false},"axis":{"title":"Medication"}},"y":{"field":"ty","type":"quantitative","scale":{"domain":[0,26.3],"nice":false}},"text":{"field":"lab"}}}
 ]}
]
}
